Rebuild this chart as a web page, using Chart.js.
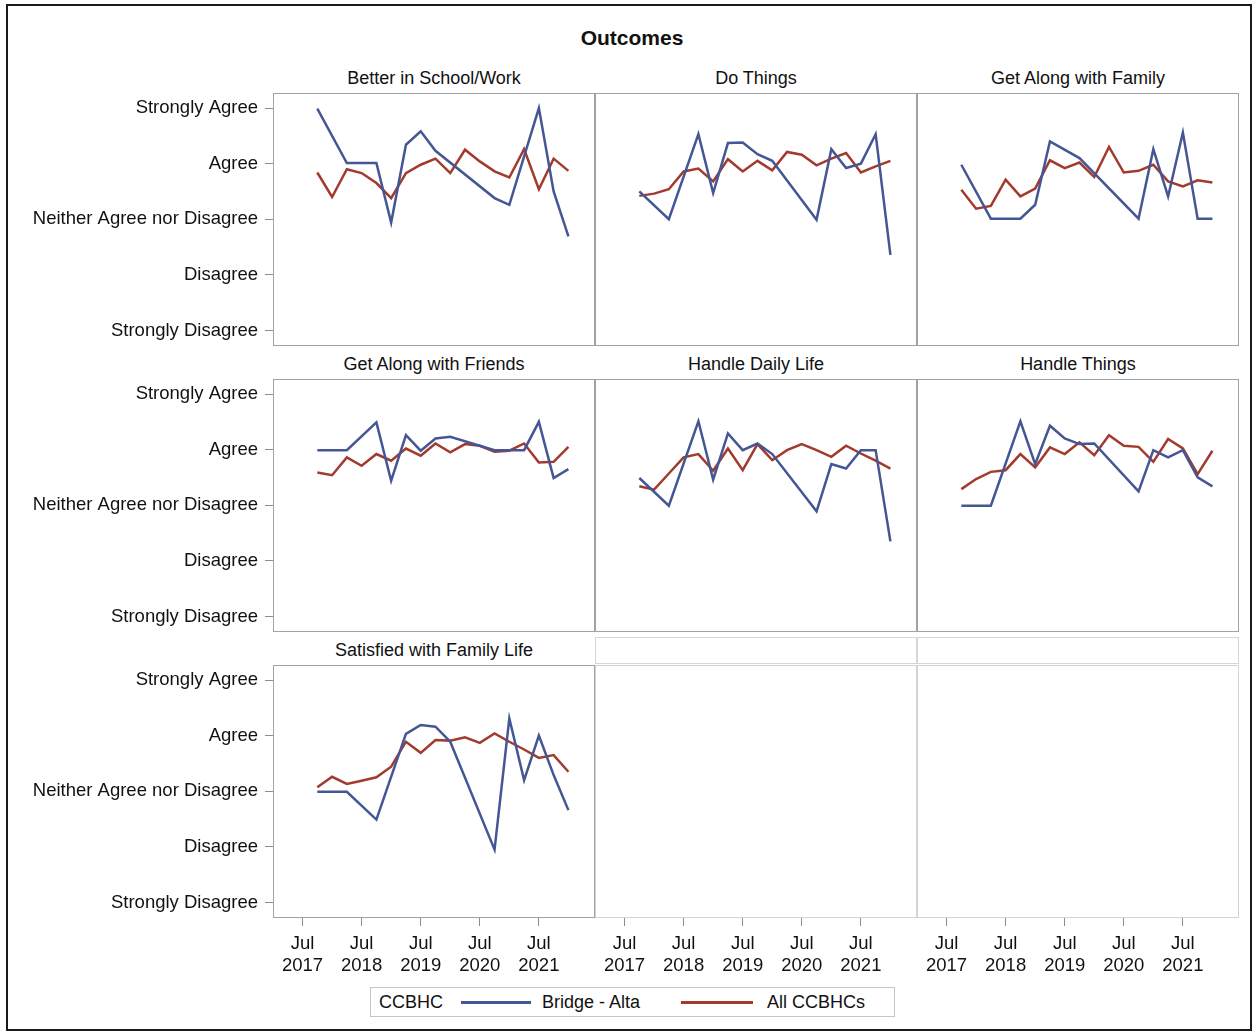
<!DOCTYPE html>
<html>
<head>
<meta charset="utf-8">
<title>Outcomes</title>
<script src="https://cdn.jsdelivr.net/npm/chart.js@4.4.1/dist/chart.umd.min.js"></script>
<style>
  html, body { margin: 0; padding: 0; background: #fff; }
  body {
    width: 1257px; height: 1032px; position: relative; overflow: hidden;
    font-family: "Liberation Sans", Arial, sans-serif; color: #111;
  }
  #frame { position: absolute; left: 6px; top: 4px; width: 1242px; height: 1023px; border: 2px solid #1a1a1a; }
  #title { position: absolute; left: 432px; top: 26px; width: 400px; text-align: center; font-weight: bold; font-size: 21px; line-height: 24px; }
  .strip { position: absolute; width: 322px; height: 27px; line-height: 27px; text-align: center; font-size: 18px; box-sizing: border-box; }
  .strip.empty { border: 1px solid #d6d6d6; }
  canvas { position: absolute; }
  #legend { position: absolute; left: 370px; top: 987px; width: 525px; height: 30px; border: 1px solid #c6c6c6; box-sizing: border-box; font-size: 18px; }
  #legend span { position: absolute; top: 0; line-height: 28px; white-space: nowrap; }
  #legend i { position: absolute; top: 13px; height: 3px; }
</style>
</head>
<body>
<div id="frame"></div>
<div id="title">Outcomes</div>
<div id="legend">
  <span style="left:8px">CCBHC</span>
  <i style="left:90px; width:70px; background:#445694"></i>
  <span style="left:171px">Bridge - Alta</span>
  <i style="left:310px; width:72px; background:#A23A2E"></i>
  <span style="left:396px">All CCBHCs</span>
</div>

<script>
// quarterly survey periods (x axis)
const quarters = ['2017-10', '2018-01', '2018-04', '2018-07', '2018-10', '2019-01', '2019-04', '2019-07', '2019-10',
                  '2020-01', '2020-04', '2020-07', '2020-10', '2021-01', '2021-04', '2021-07', '2021-10', '2022-01'];

const yLabels = ['Strongly Disagree', 'Disagree', 'Neither Agree nor Disagree', 'Agree', 'Strongly Agree'];
const xTickYears = [2017, 2018, 2019, 2020, 2021];

const panelTitles = ['Better in School/Work', 'Do Things', 'Get Along with Family', 'Get Along with Friends',
                     'Handle Daily Life', 'Handle Things', 'Satisfied with Family Life'];

// Bridge - Alta (null = no responses that quarter)
const schoolBlue   = [4.99, null, 4.01, null, 4.01, 2.94, 4.34, 4.58, 4.23, null, null, null, 3.38, 3.26, null, 5.00, 3.50, 2.69];
const doThingsBlue = [3.50, null, 3.00, null, 4.53, 3.47, 4.37, 4.38, 4.17, 4.05, null, null, 2.99, 4.26, 3.92, 4.00, 4.53, 2.36];
const familyBlue   = [3.98, null, 3.01, null, 3.01, 3.26, 4.40, null, 4.10, null, null, null, 3.01, 4.26, 3.41, 4.56, 3.01, 3.01];
const friendsBlue  = [3.99, null, 3.99, null, 4.49, 3.44, 4.26, 3.98, 4.20, 4.23, null, null, 3.99, 3.99, 3.99, 4.50, 3.49, 3.65];
const dailyBlue    = [3.49, null, 2.99, null, 4.51, 3.46, 4.29, 3.99, 4.11, 3.92, null, null, 2.89, 3.74, 3.66, 3.99, 3.99, 2.35];
const handleBlue   = [2.99, null, 2.99, null, 4.51, 3.74, 4.43, 4.20, 4.10, 4.11, null, null, 3.25, 3.99, 3.86, 3.99, 3.50, 3.34];
const satisfiedBlue= [2.99, null, 2.99, null, 2.49, null, 4.03, 4.19, 4.16, 3.89, null, null, 1.95, 4.31, 3.20, 4.00, 3.29, 2.66];

// All CCBHCs
const schoolRed    = [3.84, 3.40, 3.90, 3.83, 3.65, 3.38, 3.83, 3.98, 4.09, 3.83, 4.25, 4.04, 3.86, 3.75, 4.26, 3.54, 4.09, 3.87];
const doThingsRed  = [3.42, 3.46, 3.54, 3.86, 3.91, 3.68, 4.08, 3.86, 4.05, 3.88, 4.21, 4.16, 3.97, 4.09, 4.19, 3.84, 3.95, 4.05];
const familyRed    = [3.53, 3.19, 3.24, 3.71, 3.41, 3.55, 4.06, 3.92, 4.02, 3.76, 4.30, 3.84, 3.87, 3.98, 3.68, 3.59, 3.70, 3.66];
const friendsRed   = [3.59, 3.54, 3.86, 3.71, 3.92, 3.80, 4.02, 3.89, 4.11, 3.95, 4.10, 4.07, 3.96, 3.98, 4.11, 3.77, 3.78, 4.05];
const dailyRed     = [3.34, 3.28, 3.57, 3.86, 3.92, 3.62, 4.02, 3.63, 4.10, 3.81, 3.99, 4.10, 3.99, 3.87, 4.07, 3.93, 3.80, 3.66];
const handleRed    = [3.29, 3.47, 3.60, 3.63, 3.92, 3.68, 4.04, 3.92, 4.13, 3.90, 4.26, 4.07, 4.05, 3.78, 4.19, 4.02, 3.56, 3.98];
const satisfiedRed = [3.07, 3.26, 3.13, 3.19, 3.25, 3.44, 3.89, 3.69, 3.92, 3.91, 3.97, 3.87, 4.04, 3.89, 3.75, 3.60, 3.65, 3.35];

const BLUE = '#445694';
const RED = '#A23A2E';
const FONT = { family: '"Liberation Sans", Arial, sans-serif', size: 18.5 };

// panel grid (plot boxes)
const colLeft = [273, 595, 917];
const rowTop = [93, 379, 665];
const BOX_W = 322, BOX_H = 253, Y_AXIS_W = 263, X_AXIS_H = 70;

const xNum = q => {
  const [y, m] = q.split('-').map(Number);
  return y + (m - 1) / 12;
};
const toPoints = arr => quarters.map((q, i) => ({ x: xNum(q), y: arr[i] }));

// draws the frame around each plot area
const panelBox = {
  id: 'panelBox',
  afterDraw(chart, args, opts) {
    const a = chart.chartArea, ctx = chart.ctx;
    ctx.save();
    ctx.strokeStyle = opts.color;
    ctx.lineWidth = 1;
    ctx.strokeRect(a.left + 0.5, a.top + 0.5, a.right - a.left - 1, a.bottom - a.top - 1);
    ctx.restore();
  }
};

function addStrip(row, col, text, empty) {
  const d = document.createElement('div');
  d.className = 'strip' + (empty ? ' empty' : '');
  d.style.left = colLeft[col] + 'px';
  d.style.top = (rowTop[row] - 28) + 'px';
  d.textContent = text;
  document.body.appendChild(d);
}

function makeCell(row, col, title, blue, red) {
  const empty = !blue;
  const showY = col === 0;
  const showX = row === 2;
  addStrip(row, col, title || '', empty);

  const canvas = document.createElement('canvas');
  const left = showY ? colLeft[col] - Y_AXIS_W : colLeft[col];
  const width = showY ? BOX_W + Y_AXIS_W : BOX_W;
  const height = showX ? BOX_H + X_AXIS_H : BOX_H;
  canvas.width = width;
  canvas.height = height;
  canvas.style.left = left + 'px';
  canvas.style.top = rowTop[row] + 'px';
  canvas.style.width = width + 'px';
  canvas.style.height = height + 'px';
  document.body.appendChild(canvas);

  const datasets = empty ? [] : [
    { label: 'Bridge - Alta', data: toPoints(blue), borderColor: BLUE, borderWidth: 2.5, pointRadius: 0, spanGaps: true, tension: 0 },
    { label: 'All CCBHCs', data: toPoints(red), borderColor: RED, borderWidth: 2.5, pointRadius: 0, spanGaps: true, tension: 0 }
  ];

  new Chart(canvas.getContext('2d'), {
    type: 'line',
    data: { datasets: datasets },
    options: {
      responsive: false,
      animation: false,
      devicePixelRatio: 1,
      events: [],
      layout: { padding: 0, autoPadding: false },
      plugins: {
        legend: { display: false },
        tooltip: { enabled: false },
        panelBox: { color: empty ? '#d4d4d4' : '#9ea3a8' }
      },
      scales: {
        x: {
          type: 'linear',
          min: 2017.0,
          max: 2022.45,
          display: showX,
          afterBuildTicks: s => { s.ticks = xTickYears.map(y => ({ value: y + 0.5 })); },
          afterFit: s => {
            s.height = showX ? X_AXIS_H : 0;
            s.paddingLeft = 0; s.paddingRight = 0;
          },
          ticks: {
            autoSkip: false, maxRotation: 0, padding: 7, color: '#111', font: FONT,
            callback: v => ['Jul', String(Math.floor(v))]
          },
          grid: { drawOnChartArea: false, drawTicks: true, tickLength: 8, color: '#8c8c8c' },
          border: { display: false }
        },
        y: {
          type: 'linear',
          min: 0.72,
          max: 5.27,
          display: showY,
          afterBuildTicks: s => { s.ticks = [1, 2, 3, 4, 5].map(v => ({ value: v })); },
          afterFit: s => {
            s.width = showY ? Y_AXIS_W : 0;
            s.paddingTop = 0; s.paddingBottom = 0;
          },
          ticks: {
            autoSkip: false, padding: 7, color: '#111', font: FONT,
            callback: v => yLabels[v - 1]
          },
          grid: { drawOnChartArea: false, drawTicks: true, tickLength: 8, color: '#8c8c8c' },
          border: { display: false }
        }
      }
    },
    plugins: [panelBox]
  });
}

makeCell(0, 0, panelTitles[0], schoolBlue, schoolRed);
makeCell(0, 1, panelTitles[1], doThingsBlue, doThingsRed);
makeCell(0, 2, panelTitles[2], familyBlue, familyRed);
makeCell(1, 0, panelTitles[3], friendsBlue, friendsRed);
makeCell(1, 1, panelTitles[4], dailyBlue, dailyRed);
makeCell(1, 2, panelTitles[5], handleBlue, handleRed);
makeCell(2, 0, panelTitles[6], satisfiedBlue, satisfiedRed);
makeCell(2, 1, '', null, null);
makeCell(2, 2, '', null, null);
</script>
</body>
</html>
